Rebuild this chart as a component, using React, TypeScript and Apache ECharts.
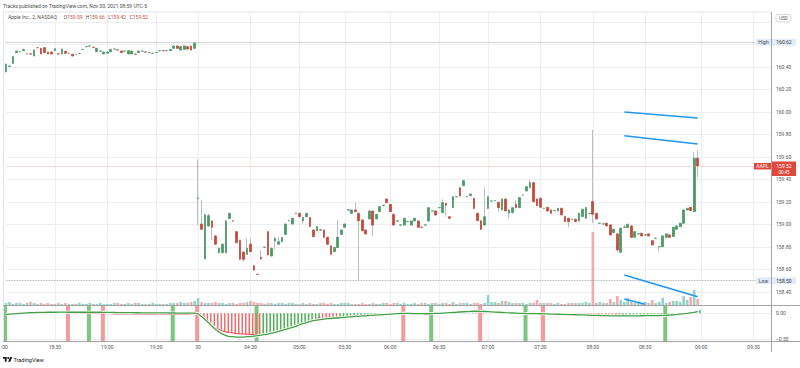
import React, { useEffect, useRef } from "react";
import * as echarts from "echarts";

const FONT = "Roboto, 'Liberation Sans', sans-serif";

// ---------- layout of the time axis ----------
const N_SLOTS = 220;
const TIME_TICKS: [number, string][] = [
  [14, "18:30"], [29, "19:00"], [43, "19:30"], [55, "30"], [70, "04:30"], [84, "05:00"],
  [97, "05:30"], [110, "06:00"], [124, "06:30"], [138, "07:00"], [153, "07:30"],
  [168, "08:00"], [183, "08:30"], [199, "09:00"], [214, "09:30"],
];
// grid levels of the price scale, and the labels left visible (160.60 / 160.80 sit under the High and USD badges)
const PRICE_TICKS = [158.4, 158.6, 158.8, 159.0, 159.2, 159.4, 159.6, 159.8, 160.0, 160.2, 160.4, 160.6, 160.8];
const PRICE_LABELS = [158.4, 158.6, 158.8, 159.0, 159.2, 159.4, 159.6, 159.8, 160.0, 160.2, 160.4];
const OSC_TICKS = [0, -0.5];

// ---------- AAPL 2-minute candles [open, high, low, close] ----------
const OHLC_NOV29: number[][] = [
  [160.359, 160.433, 160.350, 160.424], [160.405, 160.412, 160.402, 160.409], [160.433, 160.497, 160.430, 160.492],
  [160.528, 160.546, 160.525, 160.542], [160.535, 160.540, 160.532, 160.536], [160.545, 160.560, 160.543, 160.557],
  [160.516, 160.519, 160.513, 160.517], [160.517, 160.519, 160.513, 160.515], [160.498, 160.555, 160.495, 160.551],
  [160.571, 160.575, 160.569, 160.572], [160.566, 160.570, 160.514, 160.516], [160.572, 160.576, 160.525, 160.528],
  [160.533, 160.536, 160.514, 160.516], [160.533, 160.536, 160.514, 160.516], [160.545, 160.566, 160.543, 160.563],
  [160.517, 160.519, 160.513, 160.516], [160.516, 160.563, 160.513, 160.560], [160.539, 160.542, 160.520, 160.522],
  [160.521, 160.525, 160.519, 160.522], [160.513, 160.516, 160.495, 160.498], [160.512, 160.516, 160.510, 160.513],
  [160.521, 160.525, 160.519, 160.522], [160.556, 160.560, 160.554, 160.557], [160.580, 160.584, 160.578, 160.581],
  [160.586, 160.590, 160.584, 160.587], [160.576, 160.578, 160.572, 160.575], [160.536, 160.569, 160.533, 160.566],
  [160.541, 160.545, 160.539, 160.542], [160.516, 160.536, 160.513, 160.533], [160.522, 160.536, 160.520, 160.533],
  [160.536, 160.560, 160.533, 160.557], [160.559, 160.563, 160.557, 160.560], [160.552, 160.554, 160.548, 160.551],
  [160.542, 160.545, 160.525, 160.528], [160.541, 160.545, 160.539, 160.542], [160.516, 160.548, 160.513, 160.545],
  [160.516, 160.545, 160.513, 160.542], [160.514, 160.516, 160.510, 160.513], [160.528, 160.545, 160.525, 160.542],
  [160.541, 160.545, 160.539, 160.542], [160.534, 160.536, 160.530, 160.533], [160.527, 160.531, 160.525, 160.528],
  [160.521, 160.525, 160.519, 160.522], [160.529, 160.533, 160.527, 160.530], [160.544, 160.548, 160.542, 160.545],
  [160.546, 160.548, 160.542, 160.545], [160.544, 160.548, 160.542, 160.545], [160.545, 160.560, 160.543, 160.557],
  [160.566, 160.590, 160.563, 160.587], [160.587, 160.590, 160.563, 160.566], [160.551, 160.584, 160.548, 160.581],
  [160.557, 160.590, 160.554, 160.587], [160.581, 160.584, 160.557, 160.560], [160.587, 160.590, 160.548, 160.551],
  [160.566, 160.620, 160.563, 160.612],
];

const OHLC_NOV30: number[][] = [
  [159.230, 159.579, 158.995, 159.236], [159.004, 159.218, 158.951, 158.957], [158.693, 159.099, 158.690, 159.084],
  [158.986, 159.099, 158.981, 159.078], [159.031, 159.040, 158.862, 158.975], [158.898, 158.905, 158.818, 158.824],
  [158.749, 158.795, 158.745, 158.788], [158.749, 158.830, 158.745, 158.824], [158.749, 159.040, 158.745, 159.031],
  [159.052, 159.105, 159.050, 159.099], [159.033, 159.036, 159.027, 159.030], [158.936, 158.940, 158.835, 158.838],
  [158.859, 158.865, 158.685, 158.690], [158.755, 158.760, 158.669, 158.690], [158.735, 158.877, 158.730, 158.788],
  [158.826, 158.877, 158.755, 158.758], [158.634, 158.640, 158.590, 158.595], [158.557, 158.560, 158.552, 158.555],
  [158.708, 158.773, 158.690, 158.693], [158.797, 158.801, 158.795, 158.799], [158.936, 158.940, 158.725, 158.729],
  [158.720, 158.795, 158.715, 158.788], [158.853, 158.892, 158.779, 158.877], [158.824, 158.892, 158.818, 158.847],
  [158.847, 158.888, 158.843, 158.883], [158.912, 159.010, 158.908, 159.004], [159.032, 159.038, 159.030, 159.036],
  [159.004, 159.060, 159.000, 159.055], [159.097, 159.104, 159.095, 159.101], [159.099, 159.105, 159.065, 159.069],
  [159.031, 159.068, 159.010, 159.063], [159.069, 159.104, 159.065, 159.099], [159.061, 159.065, 158.976, 158.981],
  [158.951, 158.955, 158.888, 158.892], [158.945, 158.985, 158.940, 158.981], [158.953, 158.956, 158.947, 158.950],
  [158.951, 158.955, 158.882, 158.886], [158.886, 158.890, 158.820, 158.824], [158.809, 158.813, 158.730, 158.735],
  [158.758, 158.800, 158.755, 158.797], [158.794, 159.040, 158.790, 158.886], [158.912, 158.955, 158.908, 158.951],
  [158.975, 159.008, 158.972, 159.004], [159.127, 159.134, 159.124, 159.131], [159.099, 159.134, 159.095, 159.129],
  [159.129, 159.194, 159.110, 159.114], [159.099, 159.104, 158.500, 159.034], [159.040, 159.045, 158.940, 158.945],
  [158.951, 158.955, 158.910, 158.915], [159.049, 159.125, 159.045, 159.120], [159.120, 159.125, 158.898, 158.995],
  [159.049, 159.095, 159.045, 159.090], [159.114, 159.163, 159.110, 159.158], [159.168, 159.175, 159.165, 159.172],
  [159.226, 159.230, 159.190, 159.194], [159.179, 159.184, 159.110, 159.114], [159.090, 159.095, 158.990, 158.995],
  [159.029, 159.035, 159.027, 159.032], [158.994, 158.998, 158.991, 158.996], [158.995, 159.060, 158.990, 159.055],
  [159.024, 159.028, 159.021, 159.026], [158.995, 159.036, 158.990, 159.031], [159.031, 159.060, 159.028, 159.055],
  [159.031, 159.035, 158.970, 158.975], [158.976, 158.978, 158.972, 158.974], [158.994, 158.998, 158.991, 158.996],
  [159.031, 159.154, 159.028, 159.149], [159.119, 159.123, 159.117, 159.121], [159.120, 159.125, 159.080, 159.084],
  [159.148, 159.152, 159.146, 159.150], [159.105, 159.223, 159.100, 159.194], [159.188, 159.192, 159.069, 159.170],
  [159.069, 159.073, 159.050, 159.055], [159.149, 159.252, 159.145, 159.247], [159.246, 159.250, 159.243, 159.248],
  [159.327, 159.332, 159.249, 159.253], [159.345, 159.395, 159.340, 159.390], [159.246, 159.250, 159.243, 159.248],
  [159.256, 159.275, 159.252, 159.271], [159.232, 159.236, 159.138, 159.143], [159.099, 159.104, 159.030, 159.034],
  [159.034, 159.038, 158.952, 158.957], [158.995, 159.327, 158.990, 159.069], [159.143, 159.252, 159.138, 159.247],
  [159.208, 159.212, 159.205, 159.210], [159.211, 159.215, 159.208, 159.213], [159.197, 159.202, 159.114, 159.149],
  [159.129, 159.230, 159.125, 159.226], [159.226, 159.230, 159.115, 159.120], [159.099, 159.134, 159.055, 159.129],
  [159.105, 159.153, 159.100, 159.149], [159.179, 159.218, 159.145, 159.149], [159.150, 159.243, 159.145, 159.239],
  [159.261, 159.265, 159.258, 159.263], [159.298, 159.340, 159.294, 159.336], [159.327, 159.396, 159.323, 159.372],
  [159.372, 159.376, 159.198, 159.203], [159.227, 159.231, 159.163, 159.168], [159.233, 159.237, 159.148, 159.153],
  [159.143, 159.147, 159.141, 159.145], [159.153, 159.157, 159.115, 159.120], [159.129, 159.133, 159.095, 159.099],
  [159.122, 159.126, 159.119, 159.124], [159.120, 159.148, 159.116, 159.144], [159.144, 159.148, 159.080, 159.085],
  [159.070, 159.075, 159.020, 159.025], [159.055, 159.060, 158.975, 159.025], [159.045, 159.049, 159.042, 159.047],
  [159.046, 159.050, 159.020, 159.025], [159.031, 159.104, 159.027, 159.099], [159.070, 159.140, 159.066, 159.135],
  [159.055, 159.155, 159.050, 159.150], [159.098, 159.102, 159.095, 159.100], [159.203, 159.840, 159.011, 159.090],
  [159.099, 159.104, 159.045, 159.049], [159.010, 159.014, 159.007, 159.012], [159.004, 159.008, 159.001, 159.006],
  [159.011, 159.015, 158.983, 158.987], [158.996, 159.000, 158.903, 158.907], [158.928, 158.962, 158.924, 158.957],
  [158.916, 158.920, 158.750, 158.773], [158.753, 158.970, 158.750, 158.966], [158.974, 158.996, 158.971, 158.976],
  [158.972, 159.006, 158.968, 159.002], [158.987, 158.991, 158.882, 158.886], [158.886, 158.940, 158.882, 158.936],
  [158.915, 158.919, 158.912, 158.917], [158.922, 158.926, 158.894, 158.898], [158.906, 158.910, 158.903, 158.908],
  [158.916, 158.920, 158.894, 158.898], [158.856, 158.860, 158.814, 158.818], [158.876, 158.880, 158.873, 158.878],
  [158.802, 158.806, 158.759, 158.804], [158.803, 158.902, 158.799, 158.898], [158.886, 158.920, 158.882, 158.916],
  [158.907, 158.911, 158.882, 158.886], [158.892, 158.979, 158.888, 158.975], [158.957, 158.991, 158.953, 158.987],
  [158.981, 159.015, 158.977, 159.011], [159.011, 159.133, 159.007, 159.129], [159.129, 159.148, 159.125, 159.144],
  [159.153, 159.157, 159.119, 159.123], [159.114, 159.647, 159.110, 159.588], [159.590, 159.660, 159.420, 159.520],
];

// volume, in units of 10k shares
const VOLUME_10K: number[] = [
  2, 3, 1, 2, 2, 1, 2, 3, 2, 1, 2, 1, 2, 1, 1, 2, 1, 2, 1, 1, 1, 2, 1, 1, 2, 1, 1, 2, 1, 1,
  1, 2, 2, 1, 1, 2, 1, 2, 2, 1, 1, 1, 2, 1, 1, 1, 1, 2, 2, 2, 3, 2, 2, 3, 4,
  7, 3, 2, 2, 2, 3, 2, 2, 1, 2, 2, 1, 2, 2, 3, 4, 3, 2, 2, 1, 2, 2, 1, 2, 2, 1, 2, 2, 1, 1,
  2, 1, 2, 1, 1, 2, 2, 1, 2, 1, 1, 2, 2, 2, 1, 1, 1, 2, 1, 1, 2, 1, 1, 2, 2, 1, 2, 2, 1,
  2, 1, 1, 2, 1, 2, 2, 1, 2, 2, 1, 2, 2, 1, 3, 1, 2, 2, 2, 1, 2, 2, 1, 2, 10, 3, 3, 2, 4, 4,
  3, 2, 2, 2, 2, 1, 2, 2, 5, 2, 2, 2, 2, 1, 2, 1, 1, 2, 2, 2, 2, 2, 3, 2,
  73,
  2, 3, 2, 2, 6, 3, 9, 5, 3, 7, 3, 2, 3, 2, 3, 2, 5, 2, 3, 7, 2, 3, 4, 4, 3, 9, 5, 8, 15, 6,
];

// oscillator histogram
const OSC_HIST: number[] = [
  -0.01, -0.006, -0.002, 0, 0.002, 0.004, 0.005, 0.006, 0.007, 0.008,
  0.009, 0.01, 0.011, 0.012, 0.0125, 0.013, 0.0135, 0.014,
  0.01, 0.008, 0.006, 0.004, 0.002, 0, -0.002, -0.004, -0.005, -0.006,
  -0.007, -0.008, -0.009, -0.01, -0.011, -0.012, -0.0125, -0.013, -0.0135, -0.014,
  -0.0145, -0.015, -0.0155, -0.016, -0.0165, -0.017, -0.0175, -0.018, -0.0182, -0.0184,
  -0.019, -0.0192, -0.0194, -0.02, -0.0202, -0.0204, -0.021,
  -0.03, -0.08, -0.14, -0.19, -0.24, -0.28, -0.31, -0.34, -0.36, -0.37,
  -0.38, -0.39, -0.395, -0.4, -0.402, -0.405, -0.408, -0.41,
  -0.4, -0.39, -0.38, -0.36, -0.34, -0.32, -0.3, -0.28, -0.26, -0.24, -0.22, -0.19, -0.17, -0.15, -0.13, -0.11,
  -0.09, -0.095, -0.1, -0.1, -0.1, -0.1,
  -0.09, -0.08, -0.075, -0.07, -0.065, -0.06, -0.055, -0.05, -0.045, -0.04, -0.035, -0.03, -0.025, -0.02, -0.015, -0.01, -0.005, 0, 0.005,
  0, -0.005, -0.008, -0.01, -0.012, -0.013, -0.014, -0.015,
  -0.01, -0.005, 0, 0.005, 0.01, 0.015, 0.02, 0.025, 0.03, 0.035, 0.04, 0.045,
  0.04, 0.035, 0.03, 0.028, 0.025, 0.022, 0.02, 0.017, 0.014, 0.011, 0.008, 0.005, 0.002, 0, -0.003,
  -0.002, 0, 0.001, 0.002, 0.003,
  0, -0.003, -0.006, -0.009, -0.012, -0.015, -0.018, -0.02, -0.022, -0.024, -0.026, -0.028, -0.03, -0.032, -0.034, -0.036, -0.038, -0.04, -0.042, -0.044, -0.046,
  -0.045, -0.044, -0.043, -0.042, -0.041, -0.04, -0.039, -0.038, -0.037, -0.036, -0.035, -0.034, -0.033, -0.03, -0.026, -0.022, -0.018, -0.012, -0.006, 0, 0.01, 0.025, 0.04, 0.06,
];

// oscillator signal line
const OSC_SIGNAL: number[] = [
  -0.02, -0.015, -0.01, -0.005, 0, 0.004, 0.008, 0.011, 0.014, 0.016, 0.018, 0.019, 0.02,
  0.02, 0.02, 0.021, 0.021, 0.021, 0.02, 0.02, 0.02, 0.02, 0.02, 0.02, 0.02, 0.02, 0.02, 0.02,
  0.019, 0.018, 0.017, 0.016, 0.015, 0.014, 0.013, 0.012, 0.012, 0.011, 0.011, 0.01, 0.01, 0.009,
  0.009, 0.008, 0.008, 0.007, 0.007, 0.006, 0.006, 0.005, 0.005, 0.004, 0.004, 0.003, 0.003,
  -0.01, -0.06, -0.12, -0.18, -0.25, -0.31, -0.36, -0.4, -0.43, -0.45,
  -0.45, -0.46, -0.46, -0.46, -0.45, -0.45, -0.44, -0.43, -0.42, -0.41,
  -0.4, -0.38, -0.37, -0.35, -0.33, -0.31, -0.29, -0.27, -0.25, -0.22,
  -0.2, -0.18, -0.16, -0.14, -0.13, -0.12, -0.11, -0.1, -0.1, -0.09,
  -0.09, -0.08, -0.08, -0.07, -0.07, -0.06, -0.06, -0.05, -0.05, -0.04,
  -0.04, -0.03, -0.03, -0.025, -0.02, -0.015, -0.01, -0.005, 0,
  0, -0.002, -0.004, -0.005, -0.006, -0.007, -0.008, -0.008,
  -0.006, -0.003, 0, 0.004, 0.008, 0.012, 0.016, 0.02, 0.025, 0.03, 0.034, 0.038,
  0.04, 0.04, 0.038, 0.035, 0.032, 0.028, 0.024, 0.02, 0.016, 0.012, 0.009, 0.006, 0.003, 0, -0.002, -0.004, -0.005, -0.006, -0.007, -0.008,
  -0.01, -0.012, -0.014, -0.016, -0.018, -0.02, -0.022, -0.024, -0.026, -0.028, -0.03, -0.032, -0.034, -0.036, -0.038, -0.04, -0.042, -0.044, -0.046, -0.048, -0.05, -0.05, -0.05,
  -0.05, -0.05, -0.05, -0.049, -0.048, -0.047, -0.046, -0.045, -0.044, -0.043, -0.042, -0.04, -0.037, -0.033, -0.028, -0.022, -0.015, -0.008, 0, 0.01, 0.02, 0.035,
];

// full-height signal markers in the oscillator pane
const SIGNALS: [number, "buy" | "sell"][] = [
  [0, "buy"], [18, "sell"], [24, "buy"], [28, "sell"], [48, "buy"], [55, "sell"], [72, "buy"],
  [114, "sell"], [122, "buy"], [136, "sell"], [149, "buy"], [154, "sell"], [189, "buy"],
];

// user-drawn trend lines: [[slot, price], [slot, price]]
const DRAWINGS: [number, number][][] = [
  [[177, 160.0], [198, 159.947]],
  [[177, 159.789], [198, 159.716]],
  [[177, 158.551], [198, 158.358]],
  [[177, 158.338], [183, 158.29]],
];

const COUNTDOWN = "00:45";

// ---------- colours ----------
const UP = "#4c9a67";
const DOWN = "#c54a3e";
const WICK = "#b5b5b5";
const VOL_UP = "#8fd3c9";
const VOL_DOWN = "#f7a9a7";
const HIST_UP = "#4caf50";
const HIST_DOWN = "#f26b6b";
const SIG_UP = "#7cc67e";
const SIG_DOWN = "#f59a9a";
const GRID = "#eceef2";
const AXIS = "#a3a3a3";
const TXT = "#555555";
const BADGE_RED = "#e0483c";
const BADGE_BLUE = "#e1ecf8";

const logoCls = echarts.graphic.extendPath(
  "M14 22H7V11H0V4h14v18zM28 22h-8l7.5-18h8L28 22zM24 8a4 4 0 1 1-8 0a4 4 0 1 1 8 0z",
  {}
);
echarts.graphic.registerShape("tvlogo", logoCls);

function buildOption() {
  const ALL = [...OHLC_NOV29, ...OHLC_NOV30];
  const categories = Array.from({ length: N_SLOTS }, (_, i) => String(i));
  const tickMap = new Map<number, string>(TIME_TICKS);
  const isTick = (i: number) => tickMap.has(i);

  const wickData = ALL.map(([o, h, l, c]) => [o, c, l, h]);
  const bodyData = ALL.map(([o, , , c]) => [o, c, Math.min(o, c), Math.max(o, c)]);
  const volData = VOLUME_10K.map((v, i) => ({
    value: v,
    itemStyle: { color: ALL[i][3] >= ALL[i][0] ? VOL_UP : VOL_DOWN },
  }));
  const histData = OSC_HIST.map((v, i) => ({
    value: v,
    itemStyle: { color: i > 0 && v > OSC_HIST[i - 1] ? HIST_UP : HIST_DOWN },
  }));
  const n = OSC_HIST.length;
  const redLine = OSC_HIST.map((v, i) => {
    const fallingHere = i > 0 && v <= OSC_HIST[i - 1];
    const fallingNext = i < n - 1 && OSC_HIST[i + 1] <= v;
    return fallingHere || fallingNext ? v : null;
  });
  const sigData = SIGNALS.map(([i, k]) => ({
    value: [i, 1],
    itemStyle: { color: k === "buy" ? SIG_UP : SIG_DOWN },
  }));

  const hi = Math.max(...ALL.map((d) => d[1]));
  const lo = Math.min(...ALL.map((d) => d[2]));
  const last = ALL[ALL.length - 1][3];

  const xBase = {
    type: "category",
    data: categories,
    boundaryGap: false,
    axisLine: { show: false },
    axisTick: { show: false },
    splitLine: { show: true, interval: (i: number) => isTick(i), lineStyle: { color: GRID, width: 1 } },
  };

  return {
    animation: false,
    backgroundColor: "#ffffff",
    textStyle: { fontFamily: FONT },
    grid: [
      { left: 6, right: 29, top: 12, height: 293 },
      { left: 6, right: 29, top: 305, height: 36 },
    ],
    xAxis: [
      { ...xBase, gridIndex: 0, axisLabel: { show: false } },
      {
        ...xBase,
        gridIndex: 1,
        axisLabel: {
          show: true,
          interval: (i: number) => isTick(i),
          formatter: (v: string) => tickMap.get(Number(v)) ?? "",
          fontSize: 5,
          color: TXT,
          margin: 3,
          fontFamily: FONT,
        },
      },
    ],
    yAxis: [
      {
        type: "value",
        gridIndex: 0,
        position: "right",
        min: 158.284,
        max: 160.889,
        axisLine: { show: false },
        axisTick: { show: false, customValues: PRICE_TICKS },
        axisLabel: {
          customValues: PRICE_LABELS,
          formatter: (v: number) => v.toFixed(2),
          fontSize: 5,
          color: TXT,
          margin: 5,
          fontFamily: FONT,
        },
        splitLine: { show: true, lineStyle: { color: GRID, width: 1 } },
      },
      { type: "value", gridIndex: 0, min: 0, max: 293, show: false, splitLine: { show: false } },
      {
        type: "value",
        gridIndex: 1,
        position: "right",
        min: -0.533,
        max: 0.16,
        axisLine: { show: false },
        axisTick: { show: false, customValues: OSC_TICKS },
        axisLabel: {
          customValues: OSC_TICKS,
          formatter: (v: number) => (v < 0 ? "\u2212" + Math.abs(v).toFixed(2) : v.toFixed(2)),
          fontSize: 5,
          color: TXT,
          margin: 5,
          fontFamily: FONT,
        },
        splitLine: { show: true, lineStyle: { color: GRID, width: 1 } },
      },
      { type: "value", gridIndex: 1, min: 0, max: 1, show: false, splitLine: { show: false } },
    ],
    series: [
      {
        name: "signals",
        type: "bar",
        xAxisIndex: 1,
        yAxisIndex: 3,
        data: sigData,
        barWidth: 4,
        z: 1,
        silent: true,
      },
      {
        name: "volume",
        type: "bar",
        xAxisIndex: 0,
        yAxisIndex: 1,
        data: volData,
        barWidth: 2.6,
        z: 2,
        silent: true,
      },
      {
        name: "wicks",
        type: "candlestick",
        xAxisIndex: 0,
        yAxisIndex: 0,
        data: wickData,
        barWidth: 0.5,
        itemStyle: { color: WICK, color0: WICK, borderColor: WICK, borderColor0: WICK, borderWidth: 0.9 },
        z: 3,
        silent: true,
      },
      {
        name: "AAPL",
        type: "candlestick",
        xAxisIndex: 0,
        yAxisIndex: 0,
        data: bodyData,
        barWidth: 2.2,
        itemStyle: { color: UP, color0: DOWN, borderColor: UP, borderColor0: DOWN, borderWidth: 0.8 },
        z: 4,
        silent: true,
        markLine: {
          silent: true,
          symbol: ["none", "none"],
          label: { show: false },
          data: [
            { yAxis: hi, lineStyle: { color: "#9598a1", type: "dotted", width: 0.8 } },
            { yAxis: lo, lineStyle: { color: "#9598a1", type: "dotted", width: 0.8 } },
            { yAxis: last, lineStyle: { color: "#f2a19a", type: "dotted", width: 0.8 } },
          ],
        },
      },
      ...DRAWINGS.map((d, k) => ({
        name: "trend" + k,
        type: "line",
        xAxisIndex: 0,
        yAxisIndex: 0,
        data: d,
        symbol: "none",
        lineStyle: { color: "#2196f3", width: 1.5 },
        z: 6,
        silent: true,
      })),
      {
        name: "hist",
        type: "bar",
        xAxisIndex: 1,
        yAxisIndex: 2,
        data: histData,
        barWidth: 1.5,
        z: 3,
        silent: true,
      },
      {
        name: "fall",
        type: "line",
        xAxisIndex: 1,
        yAxisIndex: 2,
        data: redLine,
        symbol: "none",
        connectNulls: false,
        lineStyle: { color: "#f23645", width: 1 },
        z: 4,
        silent: true,
      },
      {
        name: "signalOutline",
        type: "line",
        xAxisIndex: 1,
        yAxisIndex: 2,
        data: OSC_SIGNAL,
        symbol: "none",
        lineStyle: { color: "#ffffff", width: 3 },
        z: 5,
        silent: true,
      },
      {
        name: "signal",
        type: "line",
        xAxisIndex: 1,
        yAxisIndex: 2,
        data: OSC_SIGNAL,
        symbol: "none",
        lineStyle: { color: "#43a047", width: 1.3 },
        z: 6,
        silent: true,
      },
    ],
  };
}

function txt(x: number, y: number, text: string, fill: string, size = 5, align = "left", z = 100) {
  return {
    type: "text",
    x,
    y,
    z,
    silent: true,
    style: { text, fill, fontSize: size, fontFamily: FONT, align, verticalAlign: "middle" },
  };
}
function rect(x: number, y: number, w: number, h: number, fill: string, z = 99, stroke?: string, r = 0) {
  return {
    type: "rect",
    z,
    silent: true,
    shape: { x, y, width: w, height: h, r },
    style: stroke ? { fill, stroke, lineWidth: 0.7 } : { fill },
  };
}
function hline(x1: number, x2: number, y: number, stroke: string, z = 50) {
  return { type: "line", z, silent: true, shape: { x1, y1: y, x2, y2: y }, style: { stroke, lineWidth: 1 } };
}
function vline(x: number, y1: number, y2: number, stroke: string, z = 50) {
  return { type: "line", z, silent: true, shape: { x1: x, y1, x2: x, y2 }, style: { stroke, lineWidth: 1 } };
}

function buildGraphics(py: (v: number) => number) {
  const ALL = [...OHLC_NOV29, ...OHLC_NOV30];
  const hi = Math.max(...ALL.map((d) => d[1]));
  const lo = Math.min(...ALL.map((d) => d[2]));
  const [o, h, l, c] = OHLC_NOV30[OHLC_NOV30.length - 1];
  const yHi = py(hi);
  const yLo = py(lo);
  const yLast = py(c);
  const f = (v: number) => v.toFixed(2);

  return [
    txt(3, 6, "Tracks published on TradingView.com, Nov 30, 2021 08:59 UTC-5", "#4a4a4a", 5),
    {
      type: "text",
      x: 8,
      y: 17,
      z: 100,
      silent: true,
      style: {
        text: `{n|Apple Inc., 2, NASDAQ}  {l|O}{v|${f(o)}} {l|H}{v|${f(h)}} {l|L}{v|${f(l)}} {l|C}{v|${f(c)}}`,
        verticalAlign: "middle",
        rich: {
          n: { fill: TXT, fontSize: 5, fontFamily: FONT },
          l: { fill: TXT, fontSize: 5, fontFamily: FONT },
          v: { fill: DOWN, fontSize: 5, fontFamily: FONT },
        },
      },
    },
    // frame
    hline(3, 771, 12, "#e0e3eb"),
    vline(3.5, 12, 341, "#e0e3eb"),
    hline(3, 800, 305.5, AXIS),
    hline(3, 800, 341.5, AXIS),
    vline(771.5, 12, 352, AXIS),
    // USD box
    rect(776, 14.5, 15, 7.5, "#ffffff", 99, "#c9c9c9", 2),
    txt(783.5, 18.3, "USD", TXT, 4.5, "center"),
    // High badge
    rect(756, yHi - 3.5, 15, 7, BADGE_BLUE),
    txt(763.5, yHi, "High", "#444", 5, "center"),
    rect(772, yHi - 3.5, 24, 7, BADGE_BLUE),
    txt(784, yHi, f(hi), "#333", 5, "center"),
    // Low badge
    rect(756, yLo - 3.5, 15, 7, BADGE_BLUE),
    txt(763.5, yLo, "Low", "#444", 5, "center"),
    rect(772, yLo - 3.5, 24, 7, BADGE_BLUE),
    txt(784, yLo, f(lo), "#333", 5, "center"),
    // last price badge
    rect(754, yLast - 3, 17, 6.5, BADGE_RED),
    txt(762.5, yLast + 0.2, "AAPL", "#ffffff", 5, "center"),
    rect(772, yLast - 4.5, 24, 14.5, BADGE_RED),
    txt(784, yLast, f(c), "#ffffff", 5, "center"),
    txt(784, yLast + 6.5, COUNTDOWN, "#ffffff", 4.5, "center"),
    // clipped first time label
    txt(1, 346.5, ":00", TXT, 5, "left"),
    // TradingView branding
    { type: "tvlogo", x: 3, y: 356, scaleX: 0.26, scaleY: 0.26, z: 100, silent: true, style: { fill: "#131722" } },
    txt(13.5, 360, "TradingView", "#131722", 5.5, "left"),
  ];
}

export default function App() {
  const ref = useRef<HTMLDivElement>(null);
  useEffect(() => {
    if (!ref.current) return;
    const chart = echarts.init(ref.current, undefined, { renderer: "svg" });
    chart.setOption(buildOption() as any);
    const py = (v: number) => chart.convertToPixel({ yAxisIndex: 0 }, v) as unknown as number;
    chart.setOption({ graphic: { elements: buildGraphics(py) } } as any);
    return () => chart.dispose();
  }, []);
  return (
    <div
      ref={ref}
      style={{ position: "fixed", left: 0, top: 0, width: 800, height: 368, background: "#ffffff" }}
    />
  );
}
